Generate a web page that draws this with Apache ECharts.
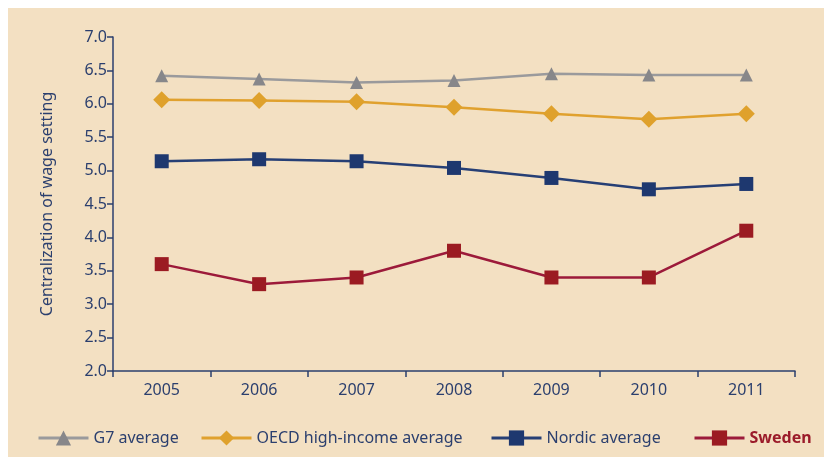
<!DOCTYPE html>
<html><head><meta charset="utf-8">
<script src="https://cdn.jsdelivr.net/npm/echarts@6/dist/echarts.min.js"></script>
<style>html,body{margin:0;padding:0;background:#fff}#c{width:824px;height:457px}</style>
</head><body><div id="c"></div>
<script>
const years = ['2005','2006','2007','2008','2009','2010','2011'];
const g7 = [6.42, 6.37, 6.32, 6.35, 6.45, 6.43, 6.43];
const oecd = [6.06, 6.05, 6.03, 5.95, 5.85, 5.77, 5.85];
const nordic = [5.14, 5.17, 5.14, 5.04, 4.89, 4.72, 4.80];
const sweden = [3.6, 3.3, 3.4, 3.8, 3.4, 3.4, 4.1];
const yTitle = 'Centralization of wage setting';

const navy = '#2B3F6E';
const font = 'Noto Sans';
const chart = echarts.init(document.getElementById('c'));
function legend(name, left, extra) {
  return Object.assign({
    data: [name], left: left, top: 425, itemWidth: 50, itemHeight: 19, itemGap: 0,
    lineStyle: {width: 3},
    textStyle: {color: navy, fontFamily: font, fontSize: 16}
  }, extra || {});
}
chart.setOption({
  backgroundColor: '#fff',
  animation: false,
  graphic: [{type: 'rect', z: -10, shape: {x: 8, y: 8, width: 816, height: 449}, style: {fill: '#F3E0C2'}}],
  grid: {left: 113, right: 29, top: 37, bottom: 86},
  legend: [
    legend('G7 average', 32),
    legend('OECD high-income average', 195),
    legend('Nordic average', 485),
    legend('Sweden', 688, {textStyle: {color: '#9B1B2A', fontFamily: font, fontSize: 16, fontWeight: 'bold'}})
  ],
  xAxis: {
    type: 'category', data: years, boundaryGap: true,
    axisLine: {lineStyle: {color: navy, width: 1.5}},
    axisTick: {show: true, length: 6, lineStyle: {color: navy, width: 1.5}},
    axisLabel: {color: navy, fontFamily: font, fontSize: 16, margin: 11}
  },
  yAxis: {
    type: 'value', min: 2, max: 7, interval: 0.5,
    name: yTitle, nameLocation: 'middle', nameGap: 58, nameRotate: 90,
    nameTextStyle: {color: navy, fontFamily: font, fontSize: 16},
    splitLine: {show: false},
    axisLine: {show: true, lineStyle: {color: navy, width: 1.5}},
    axisTick: {show: true, length: 6, lineStyle: {color: navy, width: 1.5}},
    axisLabel: {color: navy, fontFamily: font, fontSize: 16, margin: 6, formatter: v => v.toFixed(1)}
  },
  series: [
    {name: 'G7 average', type: 'line', data: g7, symbol: 'triangle', symbolSize: 13,
     lineStyle: {color: '#9A9A9C', width: 2.5}, itemStyle: {color: '#87878A'}},
    {name: 'OECD high-income average', type: 'line', data: oecd, symbol: 'diamond', symbolSize: 17,
     lineStyle: {color: '#E0A12E', width: 2.5}, itemStyle: {color: '#DFA12C'}},
    {name: 'Nordic average', type: 'line', data: nordic, symbol: 'rect', symbolSize: 14,
     lineStyle: {color: '#263F75', width: 2.5}, itemStyle: {color: '#1E386F'}},
    {name: 'Sweden', type: 'line', data: sweden, symbol: 'rect', symbolSize: 14,
     lineStyle: {color: '#9C1A3A', width: 2.5}, itemStyle: {color: '#9B1B22'}}
  ]
});
</script></body></html>
